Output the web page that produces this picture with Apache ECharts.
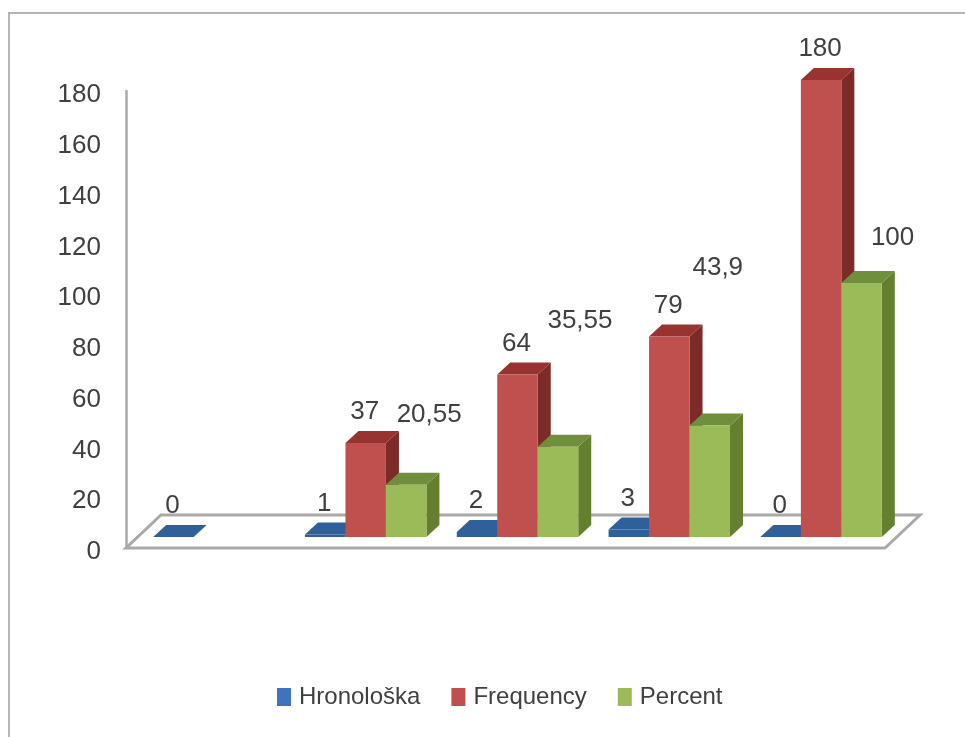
<!DOCTYPE html>
<html>
<head>
<meta charset="utf-8">
<style>html,body{margin:0;padding:0;background:#fff}#chart{width:965px;height:737px}</style>
<script src="https://cdn.jsdelivr.net/npm/echarts@6/dist/echarts.min.js"></script>
</head>
<body>
<div id="chart"></div>
<script>
const categories = ['0', '1', '2', '3', 'Total'];
const chronological = [0, 1, 2, 3, 0];
const frequency = [null, 37, 64, 79, 180];
const percent = [null, 20.55, 35.55, 43.9, 100];
const yTicks = { min: 0, max: 180, interval: 20 };

// Percent labels sit at hand-placed spots above their columns: [dx, dy] from the front top centre
const percentLabelShift = [null, [23, -70], [22, -126], [8, -158], [31, -45]];

const FONT = '"Liberation Sans",sans-serif';
const TEXT = '#404040';
const GRAY = '#a9a9a9';
const DEPTH = { x: 13, y: -12 };      // column extrusion
const PLANE = { x: 12, y: -11 };      // columns stand this far behind the floor's front edge
const FLOOR = { x: 35, y: -33 };      // floor extrusion
const BAR_RATIO = 1 / 3.75;           // column width per category band

const poly = (points, fill) => ({ type: 'polygon', shape: { points }, style: { fill }, silent: true });

function barSeries(name, values, index, colors, labelShift) {
  return {
    name, type: 'custom', coordinateSystem: 'cartesian2d', clip: false,
    itemStyle: { color: colors.legend },
    data: values.map((v, i) => [i, v]),
    encode: { x: 0, y: 1 },
    z: 3 + index,
    renderItem(params, api) {
      const v = api.value(1);
      if (v === null || v === undefined || isNaN(v)) return null;
      const i = api.value(0);
      const base = api.coord([i, 0]);
      const top = api.coord([i, v]);
      const w = api.size([1, 0])[0] * BAR_RATIO;
      const x0 = base[0] + PLANE.x + (index - 1.5) * w;
      const x1 = x0 + w;
      const yb = base[1] + PLANE.y;
      const yt = top[1] + PLANE.y;
      const dx = DEPTH.x, dy = DEPTH.y;
      const shift = labelShift ? labelShift[i] : [-1, -31];
      return {
        type: 'group',
        children: [
          poly([[x1, yb], [x1 + dx, yb + dy], [x1 + dx, yt + dy], [x1, yt]], colors.side),
          poly([[x0, yt], [x0 + dx, yt + dy], [x1 + dx, yt + dy], [x1, yt]], colors.top),
          poly([[x0, yb], [x1, yb], [x1, yt], [x0, yt]], colors.front),
          {
            type: 'text', silent: true,
            style: {
              x: (x0 + x1) / 2 + shift[0], y: yt + shift[1],
              text: String(v).replace('.', ','),
              fill: TEXT, font: '26px ' + FONT, align: 'center', verticalAlign: 'middle'
            }
          }
        ]
      };
    }
  };
}

const floorSeries = {
  type: 'custom', coordinateSystem: 'cartesian2d', clip: false, silent: true, z: 1,
  data: [[0, 0]],
  encode: { x: 0, y: 1 },
  renderItem(params, api) {
    const band = api.size([1, 0])[0];
    const origin = api.coord([0, 0]);
    const left = origin[0] - band / 2;
    const right = left + band * categories.length;
    const y = origin[1];
    return {
      type: 'polygon', silent: true,
      shape: { points: [[left, y], [right, y], [right + FLOOR.x, y + FLOOR.y], [left + FLOOR.x, y + FLOOR.y]] },
      style: { fill: '#ffffff', stroke: GRAY, lineWidth: 3, lineJoin: 'miter' }
    };
  }
};

const chart = echarts.init(document.getElementById('chart'), null, { renderer: 'canvas' });
chart.setOption({
  animation: false,
  backgroundColor: '#ffffff',
  grid: { left: 126, top: 91, width: 759, height: 457, containLabel: false },
  xAxis: {
    type: 'category', data: categories,
    axisLine: { show: false }, axisTick: { show: false }, axisLabel: { show: false }, splitLine: { show: false }
  },
  yAxis: {
    type: 'value', min: yTicks.min, max: yTicks.max, interval: yTicks.interval,
    axisLine: { show: true, lineStyle: { color: GRAY, width: 2.5 } },
    axisTick: { show: false }, splitLine: { show: false },
    axisLabel: { color: TEXT, fontFamily: FONT, fontSize: 26, margin: 25, verticalAlign: 'top', lineHeight: 8 }
  },
  legend: {
    data: ['Hronološka', 'Frequency', 'Percent'],
    left: 277, top: 685, padding: 0, icon: 'rect', itemWidth: 14, itemHeight: 18, itemGap: 31,
    selectedMode: false,
    textStyle: { color: TEXT, fontFamily: FONT, fontSize: 24, padding: [2, 0, 0, 3] }
  },
  graphic: [
    { type: 'polyline', silent: true, shape: { points: [[9, 737], [9, 13], [965, 13]] },
      style: { fill: null, stroke: '#b5b5b5', lineWidth: 2 } }
  ],
  series: [
    floorSeries,
    barSeries('Hronološka', chronological, 0, { front: '#2f6099', top: '#2f6099', side: '#254c7a', legend: '#3f74bd' }),
    barSeries('Frequency', frequency, 1, { front: '#c0504d', top: '#98332f', side: '#7c2b29', legend: '#c0504d' }),
    barSeries('Percent', percent, 2, { front: '#9bbb59', top: '#6f8f3c', side: '#64802f', legend: '#9bbb59' }, percentLabelShift)
  ]
});
</script>
</body>
</html>
